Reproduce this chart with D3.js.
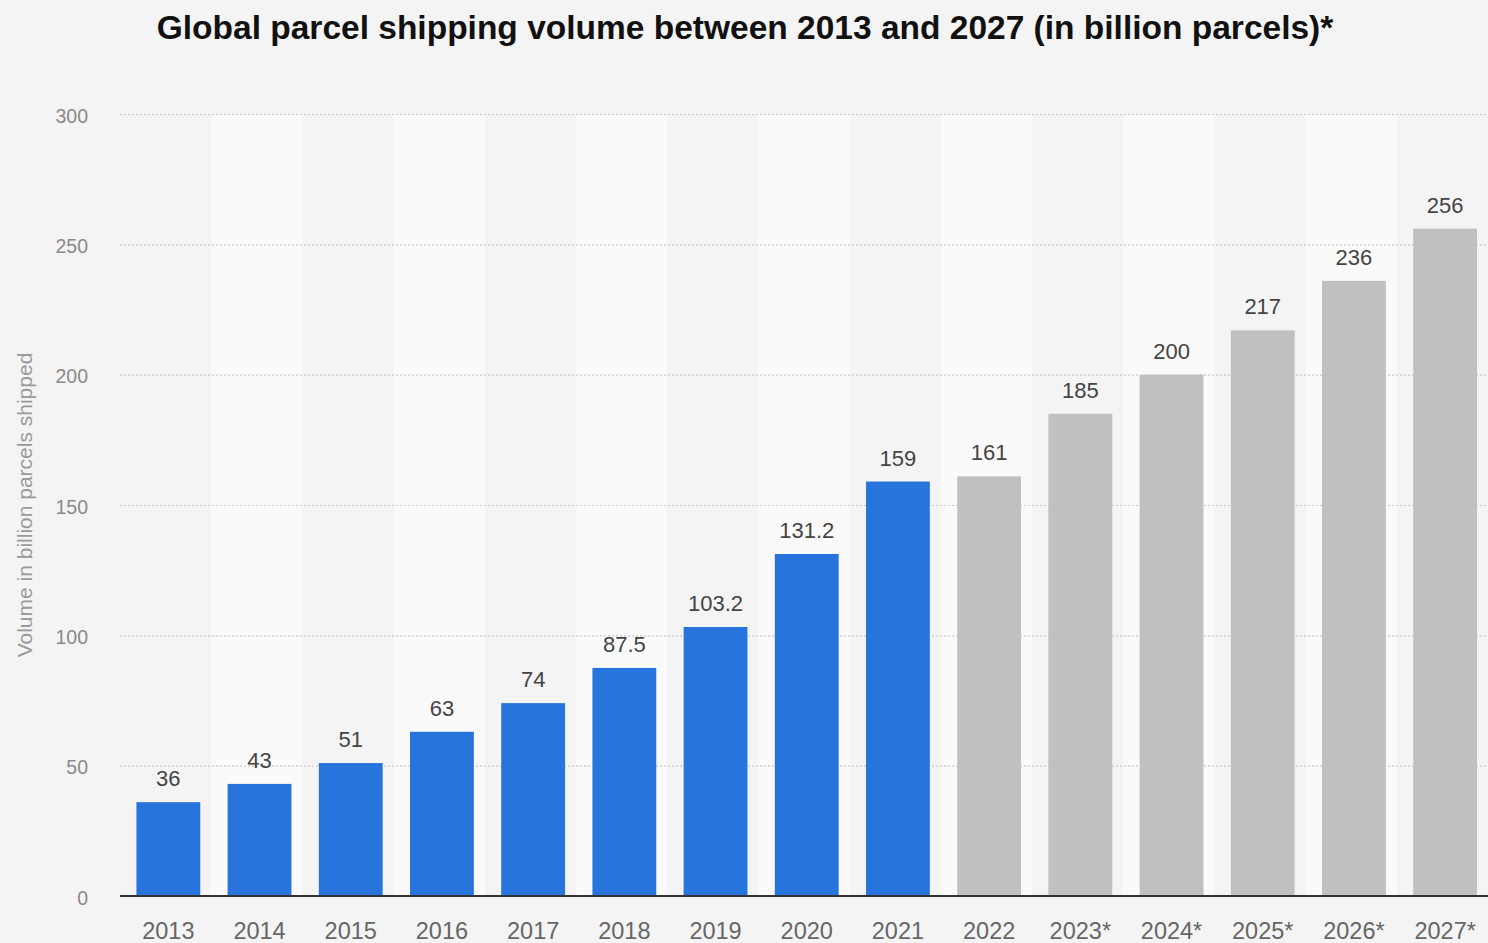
<!DOCTYPE html>
<html>
<head>
<meta charset="utf-8">
<script src="https://cdn.jsdelivr.net/npm/d3@7"></script>
<style>
  html, body { margin: 0; padding: 0; background: #f4f4f4; overflow: hidden; }
  svg { display: block; font-family: "Liberation Sans", Arial, sans-serif; }
</style>
</head>
<body>
<div id="chart"></div>
<script>
// data
const years  = ["2013", "2014", "2015", "2016", "2017", "2018", "2019", "2020",
                "2021", "2022", "2023*", "2024*", "2025*", "2026*", "2027*"];
const volume = [36, 43, 51, 63, 74, 87.5, 103.2, 131.2, 159, 161, 185, 200, 217, 236, 256];
const valueLabels = ["36", "43", "51", "63", "74", "87.5", "103.2", "131.2",
                     "159", "161", "185", "200", "217", "236", "256"];
const yTicks = [0, 50, 100, 150, 200, 250, 300];
const lastActual = 8; // 2021 is the last blue bar

const WIDTH = 1488, HEIGHT = 943;
const margin = {top: 114, right: 0, bottom: 47, left: 120};

const svg = d3.select("#chart")
              .append("svg")
              .attr("width", WIDTH)
              .attr("height", HEIGHT);

svg.append("rect")
   .attr("width", WIDTH)
   .attr("height", HEIGHT)
   .attr("fill", "#f4f4f4");

const x = d3.scaleBand()
            .domain(years)
            .range([margin.left, WIDTH - margin.right])
            .paddingInner(0.3)
            .paddingOuter(0.15)
            .align(0.6);

// one full column per year, for the stripes
const col = d3.scaleBand()
              .domain(years)
              .range([margin.left, WIDTH - margin.right]);

const y = d3.scaleLinear()
            .domain([0, 300])
            .range([HEIGHT - margin.bottom, margin.top]);

// alternating column stripes
svg.append("g")
   .selectAll("rect")
   .data(years)
   .join("rect")
   .attr("x", d => col(d))
   .attr("y", y(300))
   .attr("width", col.bandwidth())
   .attr("height", y(0) - y(300))
   .attr("fill", (d, i) => i % 2 === 1 ? "#fafafa" : "#f4f4f4");

// dotted gridlines
svg.append("g")
   .selectAll("line")
   .data(yTicks.filter(t => t > 0))
   .join("line")
   .attr("x1", margin.left)
   .attr("x2", WIDTH)
   .attr("y1", d => y(d) + 0.5)
   .attr("y2", d => y(d) + 0.5)
   .attr("stroke", "#c8c8c8")
   .attr("stroke-width", 1.2)
   .attr("stroke-dasharray", "2,2");

// y axis labels
const yAxis = svg.append("g")
   .attr("transform", `translate(${margin.left - 32},2)`)
   .call(d3.axisLeft(y).tickValues(yTicks).tickSize(0).tickPadding(0));
yAxis.select(".domain").remove();
yAxis.selectAll("text")
     .attr("fill", "#8a8a8a")
     .style("font-size", "19.5px")
     .style("font-family", "'Liberation Sans', Arial, sans-serif");

// bars
svg.append("g")
   .selectAll("rect")
   .data(volume)
   .join("rect")
   .attr("x", (d, i) => x(years[i]))
   .attr("y", d => y(d))
   .attr("width", x.bandwidth())
   .attr("height", d => y(0) - y(d))
   .attr("fill", (d, i) => i <= lastActual ? "#2775dc" : "#c0c0c0");

// value labels
svg.append("g")
   .selectAll("text")
   .data(volume)
   .join("text")
   .attr("x", (d, i) => x(years[i]) + x.bandwidth() / 2)
   .attr("y", d => y(d) - 16)
   .attr("text-anchor", "middle")
   .attr("fill", "#444")
   .style("font-size", "22px")
   .text((d, i) => valueLabels[i]);

// x axis
const xAxis = svg.append("g")
   .attr("transform", `translate(0,${y(0)})`)
   .call(d3.axisBottom(x).tickSize(0).tickPadding(26));
xAxis.select(".domain")
     .attr("stroke", "#333")
     .attr("stroke-width", 2)
     .attr("d", `M${margin.left},0H${WIDTH}`);
xAxis.selectAll("text")
     .attr("fill", "#666")
     .style("font-size", "23.5px")
     .style("font-family", "'Liberation Sans', Arial, sans-serif");

// y axis title
svg.append("text")
   .attr("transform", `translate(32,${(y(0) + y(300)) / 2}) rotate(-90)`)
   .attr("text-anchor", "middle")
   .attr("fill", "#9a9a9a")
   .style("font-size", "21px")
   .text("Volume in billion parcels shipped");

// title
svg.append("text")
   .attr("x", 745)
   .attr("y", 39)
   .attr("text-anchor", "middle")
   .attr("fill", "#111")
   .style("font-size", "33.5px")
   .style("font-weight", "bold")
   .text("Global parcel shipping volume between 2013 and 2027 (in billion parcels)*");
</script>
</body>
</html>
